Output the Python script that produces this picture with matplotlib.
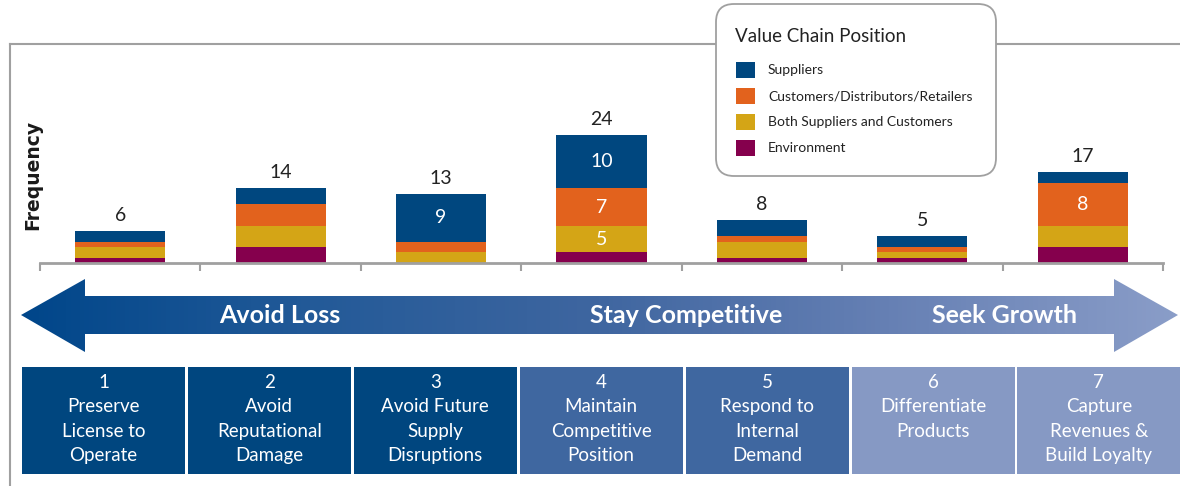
import numpy as np
import matplotlib.pyplot as plt
from matplotlib.patches import Polygon, Rectangle, FancyBboxPatch
from matplotlib.colors import LinearSegmentedColormap

plt.rcParams['font.family'] = ['Lato', 'DejaVu Sans']

# data
categories = ["1\nPreserve\nLicense to\nOperate",
              "2\nAvoid\nReputational\nDamage",
              "3\nAvoid Future\nSupply\nDisruptions",
              "4\nMaintain\nCompetitive\nPosition",
              "5\nRespond to\nInternal\nDemand",
              "6\nDifferentiate\nProducts",
              "7\nCapture\nRevenues &\nBuild Loyalty"]
series_names = ["Suppliers", "Customers/Distributors/Retailers",
                "Both Suppliers and Customers", "Environment"]
suppliers = [2, 3, 9, 10, 3, 2, 2]
customers = [1, 4, 2, 7, 1, 1, 8]
both = [2, 4, 2, 5, 3, 1, 4]
environment = [1, 3, 0, 2, 1, 1, 3]
totals = [6, 14, 13, 24, 8, 5, 17]
stage_labels = ["Avoid Loss", "Stay Competitive", "Seek Growth"]

series_colors = ["#00477F", "#E2621D", "#D4A516", "#85004D"]
box_colors = ["#00467F"] * 3 + ["#3F67A0"] * 2 + ["#8699C4"] * 2
frame_gray = "#A0A0A0"

fig = plt.figure(figsize=(11.8, 4.86), dpi=100)

# pixel-space overlay for the decorations
ov = fig.add_axes([0, 0, 1, 1], zorder=0)
ov.set_xlim(0, 1180)
ov.set_ylim(486, 0)
ov.axis('off')

# outer frame
ov.plot([10, 10], [486, 44], color=frame_gray, lw=1.5)
ov.plot([10, 1180], [44, 44], color=frame_gray, lw=1.5)

# "Frequency" label
ov.text(33, 175, "Frequency", rotation=90, ha='center', va='center',
        fontsize=13.5, fontweight='bold', color='#1a1a1a',
        family=['DejaVu Sans'])

# gradient double arrow
arrow_pts = [(21, 315), (85, 279), (85, 296), (1114, 296), (1114, 279),
             (1178, 315), (1114, 352), (1114, 334), (85, 334), (85, 352)]
arrow = Polygon(arrow_pts, closed=True, facecolor='none', edgecolor='none')
ov.add_patch(arrow)
grad_cmap = LinearSegmentedColormap.from_list(
    "arr", ["#00468A", "#235A98", "#3F66A0", "#6680B4", "#8A9DC8"])
grad = np.linspace(0, 1, 256).reshape(1, -1)
im = ov.imshow(grad, cmap=grad_cmap, aspect='auto',
               extent=[21, 1178, 352, 279], zorder=1)
im.set_clip_path(arrow)
ov.set_xlim(0, 1180)
ov.set_ylim(486, 0)

stage_x = [280, 686, 1004]
for sx, lab in zip(stage_x, stage_labels):
    ov.text(sx, 315, lab, ha='center', va='center', color='white',
            fontsize=18, fontweight='bold', zorder=2)

# category boxes
box_w = 163
for i, (lab, c) in enumerate(zip(categories, box_colors)):
    x0 = 22 + i * 165.9
    ov.add_patch(Rectangle((x0, 367), box_w, 107, facecolor=c,
                           edgecolor='none', zorder=1))
    ov.text(x0 + box_w / 2, 374, lab, ha='center', va='top', color='white',
            fontsize=13.5, linespacing=1.52, zorder=2)

# legend box
ov.add_patch(FancyBboxPatch((716 + 18, 4 + 18), 280 - 36, 172 - 36,
                            boxstyle="round,pad=18", facecolor='white',
                            edgecolor=frame_gray, lw=1.3, zorder=3))
ov.text(735, 37, "Value Chain Position", ha='left', va='center',
        fontsize=13.5, color='#222222', zorder=4)
for k, (name, c) in enumerate(zip(series_names, series_colors)):
    yc = 70 + k * 26
    ov.add_patch(Rectangle((736, yc - 8), 19, 16, facecolor=c,
                           edgecolor='none', zorder=4))
    ov.text(768, yc, name, ha='left', va='center', fontsize=10,
            color='#222222', zorder=4)

# stacked bars
ax = fig.add_axes([40 / 1180, (486 - 263) / 486, 1123 / 1180, 218 / 486],
                  zorder=1)
ax.patch.set_alpha(0)
x = np.arange(len(totals))
bottom = np.zeros(len(totals))
stack = [environment, both, customers, suppliers]
stack_colors = series_colors[::-1]
for vals, c in zip(stack, stack_colors):
    vals = np.array(vals)
    ax.bar(x, vals, 0.561, bottom=bottom, color=c, edgecolor='none')
    for xi, v, b in zip(x, vals, bottom):
        if v >= 5:
            ax.text(xi, b + v / 2, str(v), ha='center', va='center',
                    color='white', fontsize=14)
    bottom += vals

for xi, t in zip(x, totals):
    ax.text(xi, t + 1.3, str(t), ha='center', va='bottom',
            color='#222222', fontsize=14)

ax.set_xlim(-0.5, 6.5)
ax.set_ylim(0, 218 / 5.33)
for s in ['top', 'right', 'left']:
    ax.spines[s].set_visible(False)
ax.spines['bottom'].set_color(frame_gray)
ax.spines['bottom'].set_linewidth(2)
ax.set_xticks(np.arange(-0.5, 7, 1))
ax.set_xticklabels([])
ax.set_yticks([])
ax.tick_params(axis='x', length=6, width=1.5, color=frame_gray, direction='out')

fig.savefig("out.png", dpi=100)
